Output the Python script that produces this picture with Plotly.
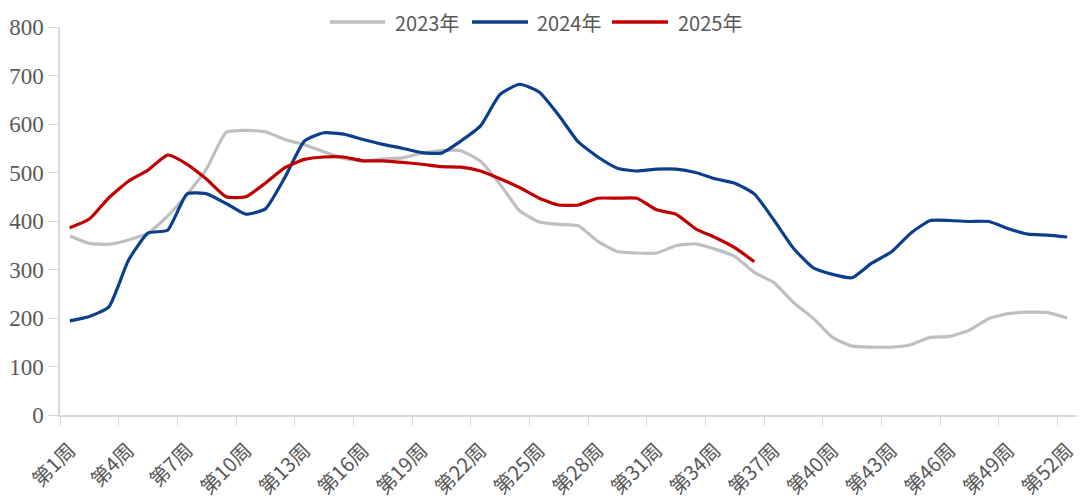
import plotly.graph_objects as go

weeks = [f"第{i}周" for i in range(1, 53)]

y2023 = [369, 354, 352, 361, 375, 410, 455, 508, 583, 587, 584, 568, 557, 543, 529, 524,
         528, 530, 540, 545, 545, 523, 476, 421, 398, 393, 390, 358, 337, 334, 334, 349,
         353, 342, 327, 294, 273, 232, 200, 160, 142, 140, 140, 145, 160, 162, 175, 199,
         209, 212, 211, 200]
y2024 = [194, 203, 223, 319, 375, 381, 456, 456, 436, 414, 425, 490, 565, 582, 579, 568,
         558, 550, 541, 540, 565, 596, 661, 682, 666, 618, 563, 532, 509, 503, 507, 507,
         500, 487, 478, 456, 402, 344, 304, 290, 283, 313, 336, 375, 401, 401, 399, 399,
         384, 373, 371, 367]
y2025 = [386, 404, 448, 482, 505, 536, 517, 486, 450, 450, 478, 510, 527, 532, 532, 524,
         524, 521, 517, 512, 511, 503, 487, 469, 447, 433, 433, 447, 447, 447, 423, 414,
         384, 366, 345, 316]

series_names = ["2023年", "2024年", "2025年"]
series_values = [y2023, y2024, y2025]
series_colors = ["#BFBFBF", "#0B3F8C", "#C00000"]

# the page body has an 8px margin, so the figure is sized to fit the window
OFF = 8
W, H = 1081, 491
ML, MR, MT, MB = 52, 12, 19, 84
PW, PH = W - ML - MR, H - MT - MB


def px_x(p):
    return (p - OFF - ML) / PW


def px_y(p):
    return (H - MB - (p - OFF)) / PH


fig = go.Figure()
for name, vals, color in zip(series_names, series_values, series_colors):
    fig.add_trace(go.Scatter(
        x=weeks[:len(vals)], y=vals, name=name, mode="lines",
        line=dict(color=color, width=3.2, shape="spline", smoothing=0.5),
        showlegend=False,
    ))

# legend drawn manually (longer line keys like the reference)
legend_line_x = [(330, 385), (472, 528), (612, 668)]
legend_text_x = [393, 535, 676]
legend_y = 22
shapes, annotations = [], []
for (x0, x1), tx, name, color in zip(legend_line_x, legend_text_x, series_names, series_colors):
    shapes.append(dict(type="line", xref="paper", yref="paper",
                       x0=px_x(x0), x1=px_x(x1), y0=px_y(legend_y), y1=px_y(legend_y),
                       line=dict(color=color, width=3.5)))
    annotations.append(dict(xref="paper", yref="paper", x=px_x(tx), y=px_y(legend_y),
                            xanchor="left", yanchor="middle", text=name, showarrow=False,
                            font=dict(family="Noto Sans CJK SC", size=20, color="#595959")))

fig.update_layout(
    width=W, height=H,
    margin=dict(l=ML, r=MR, t=MT, b=MB, autoexpand=False),
    paper_bgcolor="white", plot_bgcolor="white",
    shapes=shapes, annotations=annotations,
    xaxis=dict(
        type="category", categoryorder="array", categoryarray=weeks,
        range=[-0.5, 51.5], tickson="boundaries", dtick=3,
        tickangle=-45, ticks="outside", ticklen=9, tickcolor="#D9D9D9",
        showline=True, linecolor="#D9D9D9", linewidth=1.5,
        showgrid=False, zeroline=False, ticklabelstandoff=14,
        tickfont=dict(family="Noto Sans CJK SC", size=20, color="#595959"),
    ),
    yaxis=dict(
        range=[0, 800], dtick=100, ticks="outside", ticklen=10, tickcolor="#D9D9D9",
        showline=True, linecolor="#D9D9D9", linewidth=1.5,
        showgrid=False, zeroline=False,
        tickfont=dict(family="Liberation Serif", size=23, color="#595959"),
    ),
)

fig.write_html("out.html")
